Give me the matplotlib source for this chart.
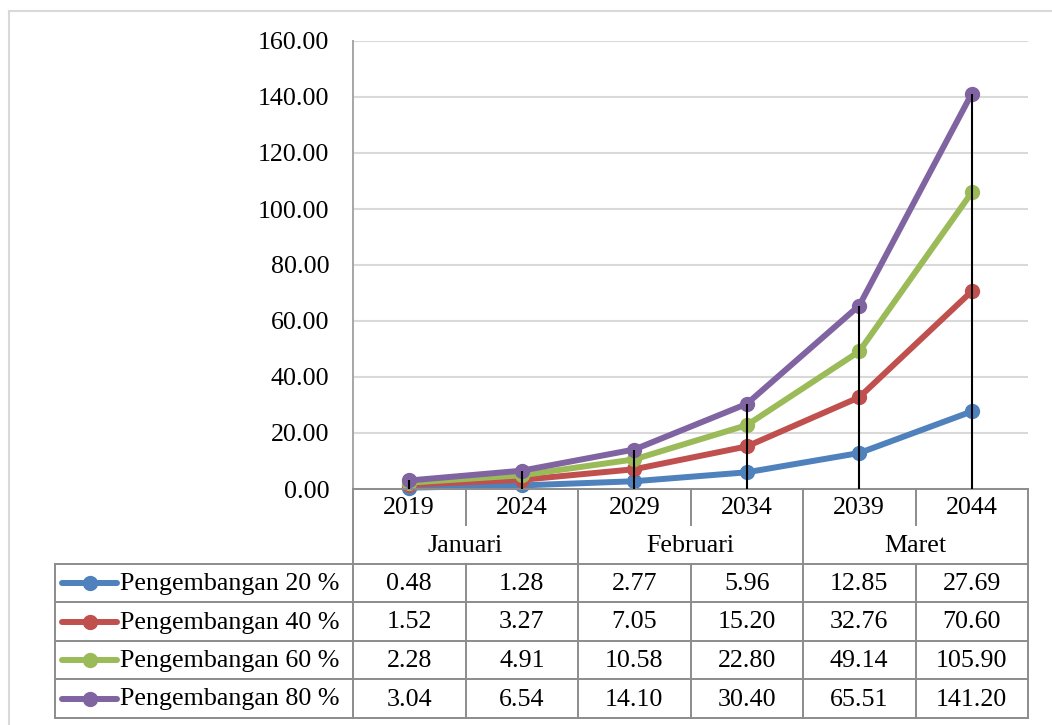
"""Growth projection per scenario, line chart with a data table underneath."""

import numpy as np
from matplotlib import pyplot as plt
from matplotlib.lines import Line2D

plt.rcParams['font.family'] = ['Liberation Serif', 'DejaVu Serif']

years = ['2019', '2024', '2029', '2034', '2039', '2044']
months = ['Januari', 'Februari', 'Maret']
series_names = [
    'Pengembangan 20 %',
    'Pengembangan 40 %',
    'Pengembangan 60 %',
    'Pengembangan 80 %',
]
pengembangan_20 = [0.48, 1.28, 2.77, 5.96, 12.85, 27.69]
pengembangan_40 = [1.52, 3.27, 7.05, 15.20, 32.76, 70.60]
pengembangan_60 = [2.28, 4.91, 10.58, 22.80, 49.14, 105.90]
pengembangan_80 = [3.04, 6.54, 14.10, 30.40, 65.51, 141.20]
y_ticks = [0, 20, 40, 60, 80, 100, 120, 140, 160]

series = [pengembangan_20, pengembangan_40, pengembangan_60, pengembangan_80]
colors = ['#4F81BD', '#C0504D', '#9BBB59', '#8064A2']

W, H = 1052, 725
FS = 18.7
GRID = '#D9D9D9'
BORDER = '#8C8C8C'
LW = 4.3
MS = 10

# layout in pixels
plot_l, plot_r, plot_t, plot_b = 353, 1028, 41, 489
table_l = 55
year_b = 525
rows = [564, 602, 641, 679, 718]
col_w = (plot_r - plot_l) / len(years)
col_x = [plot_l + i * col_w for i in range(len(years) + 1)]

fig = plt.figure(figsize=(W / 100, H / 100), dpi=100)

# overlay in pixel units for the table and the outer frame
ov = fig.add_axes([0, 0, 1, 1], zorder=0)
ov.set_xlim(0, W)
ov.set_ylim(H, 0)
ov.axis('off')

ax = fig.add_axes(
    [plot_l / W, 1 - plot_b / H, (plot_r - plot_l) / W, (plot_b - plot_t) / H],
    zorder=1,
)
ax.patch.set_visible(False)

x = np.arange(len(years))
for vals, c in zip(series, colors):
    ax.plot(x, vals, color=c, lw=LW, marker='o', ms=MS, clip_on=False,
            solid_capstyle='round')

# drop lines from the highest series down to the axis
top = np.max(np.array(series), axis=0)
ax.vlines(x, 0, top, color='black', lw=1.5, zorder=5)

ax.set_xlim(-0.5, len(years) - 0.5)
ax.set_ylim(y_ticks[0], y_ticks[-1])
ax.set_yticks(y_ticks)
ax.set_yticklabels([f'{v:.2f}' for v in y_ticks], fontsize=FS)
ax.set_xticks([])
ax.tick_params(axis='y', length=0, pad=17)
ax.yaxis.grid(True, color=GRID, lw=1.5)
ax.set_axisbelow(True)
for s in ['top', 'right']:
    ax.spines[s].set_visible(False)
ax.spines['left'].set_color('#A6A6A6')
ax.spines['left'].set_linewidth(1.4)
ax.spines['bottom'].set_color(BORDER)
ax.spines['bottom'].set_linewidth(1.4)

# outer chart frame
ov.plot([9, 9], [11, H], color=GRID, lw=1.5)
ov.plot([9, W], [11, 11], color=GRID, lw=1.5)

line_kw = dict(color=BORDER, lw=1.4)

# header: years and months
for i, yr in enumerate(years):
    ov.text((col_x[i] + col_x[i + 1]) / 2, (plot_b + year_b) / 2 + 1, yr,
            ha='center', va='center', fontsize=FS)
for k, m in enumerate(months):
    ov.text((col_x[2 * k] + col_x[2 * k + 2]) / 2, (year_b + rows[0]) / 2 + 1, m,
            ha='center', va='center', fontsize=FS)
for i in range(len(col_x)):
    if i % 2 == 1:
        ov.plot([col_x[i], col_x[i]], [plot_b, year_b], **line_kw)
    else:
        ov.plot([col_x[i], col_x[i]], [plot_b, rows[-1]], **line_kw)

# data rows
for r in rows:
    ov.plot([table_l, plot_r], [r, r], **line_kw)
ov.plot([table_l, table_l], [rows[0], rows[-1]], **line_kw)
for i in range(1, len(col_x) - 1, 2):
    ov.plot([col_x[i], col_x[i]], [rows[0], rows[-1]], **line_kw)

for j, (name, vals, c) in enumerate(zip(series_names, series, colors)):
    yc = (rows[j] + rows[j + 1]) / 2
    ov.add_line(Line2D([62, 117], [yc, yc], color=c, lw=LW,
                       solid_capstyle='round'))
    ov.plot([89.5], [yc], marker='o', ms=MS, color=c)
    ov.text(120, yc + 1, name, ha='left', va='center', fontsize=FS)
    for i, v in enumerate(vals):
        ov.text((col_x[i] + col_x[i + 1]) / 2, yc + 1, f'{v:.2f}',
                ha='center', va='center', fontsize=FS)

fig.savefig('out.png', dpi=100, facecolor='white')
plt.close(fig)
